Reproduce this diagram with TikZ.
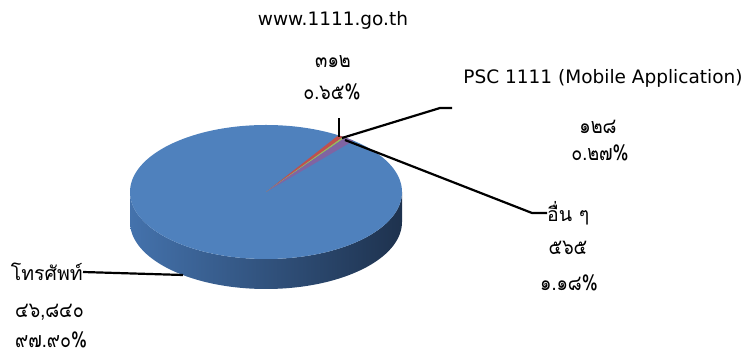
\documentclass[tikz,border=0pt]{standalone}
\usepackage{fontspec}
\setmainfont{DejaVu Sans}
\newfontfamily\thai[Script=Thai]{Loma}
\definecolor{pieblue}{HTML}{4F81BD}
\definecolor{sideL}{HTML}{4472AC}
\definecolor{sideR}{HTML}{1E324E}
\definecolor{slred}{HTML}{C0504D}
\definecolor{slgreen}{HTML}{9BBB59}
\definecolor{slpurple}{HTML}{8064A2}
\tikzset{
  lat/.style={inner sep=0pt, font=\fontsize{18.5}{18.5}\selectfont},
  thl/.style={inner sep=0pt, font=\thai\fontsize{19.5}{19.5}\selectfont},
  num/.style={inner sep=0pt, font=\thai\fontsize{18}{18}\selectfont, yscale=1.2, transform shape},
  leader/.style={draw=black, line width=2.2pt},
}
\begin{document}
\begin{tikzpicture}[x=1pt,y=1pt]
\useasboundingbox (0,0) rectangle (747,358);
% pie side
\shade[left color=sideL, right color=sideR]
  (130,166) -- (130,136) arc[start angle=180,end angle=360,x radius=136,y radius=67]
  -- (402,166) arc[start angle=0,end angle=-180,x radius=136,y radius=67] -- cycle;
% pie top
\fill[pieblue] (266,166) ellipse[x radius=136, y radius=67];
% slices
\coordinate (C) at (266,166);
\fill[slred] (C) -- ++(57.8:136 and 67) arc[start angle=57.8,end angle=55.4,x radius=136,y radius=67] -- cycle;
\fill[slgreen] (C) -- ++(55.4:136 and 67) arc[start angle=55.4,end angle=54.4,x radius=136,y radius=67] -- cycle;
\fill[slpurple] (C) -- ++(54.4:136 and 67) arc[start angle=54.4,end angle=50.0,x radius=136,y radius=67] -- cycle;
% anchor points on pie
\coordinate (pw) at (339,221);
\coordinate (pw2) at (339,240);
\coordinate (pp) at (342,220);
\coordinate (pp2) at (440,250);
\coordinate (pp3) at (452,250);
\coordinate (po) at (345,218);
\coordinate (po2) at (532,145);
\coordinate (pt) at (183,83);
% labels
\node[lat] (w1) at (333,338) {www.1111.go.th};
\node[num] (w2) at (333,296) {๓๑๒};
\node[num] (w3) at (332,266) {๐.๖๕\%};
\node[lat] (m1) at (603,280) {PSC 1111 (Mobile Application)};
\node[num] (m2) at (598,231) {๑๒๘};
\node[num] (m3) at (600,205) {๐.๒๗\%};
\node[thl, anchor=west] (o1) at (547,145) {อื่น ๆ};
\node[num] (o2) at (568,110) {๕๖๕};
\node[num] (o3) at (569,75) {๑.๑๘\%};
\node[thl, anchor=east] (t1) at (83,86) {โทรศัพท์};
\node[num, anchor=west] (t2) at (15,46) {๔๖,๘๔๐};
\node[num, anchor=west] (t3) at (15,18) {๙๗.๙๐\%};
% leaders
\draw[leader] (pw) -- (pw2);
\draw[leader] (pp) -- (pp2) -- (pp3);
\draw[leader] (po) -- (po2) -- (o1.west);
\draw[leader] (pt) -- (t1.east);
\end{tikzpicture}
\end{document}
